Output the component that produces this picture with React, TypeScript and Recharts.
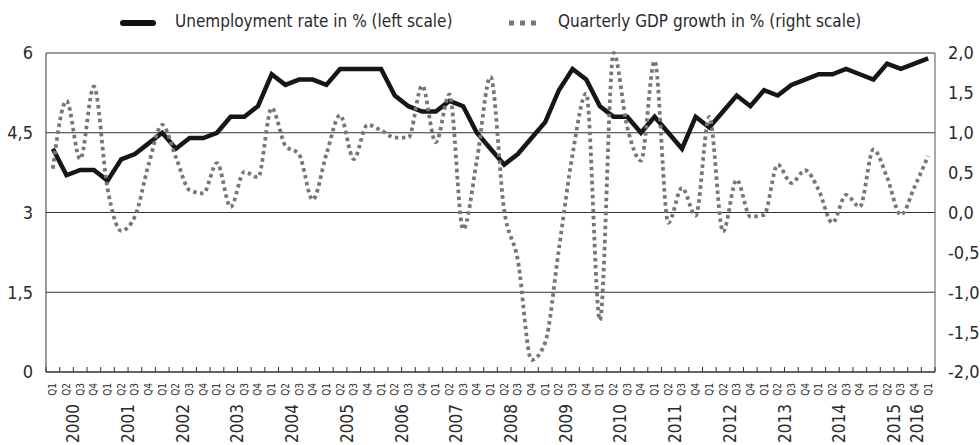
import { CartesianGrid, Line, LineChart, XAxis, YAxis } from "recharts";

const YEARS = [
  "2000", "2001", "2002", "2003", "2004", "2005", "2006", "2007", "2008",
  "2009", "2010", "2011", "2012", "2013", "2014", "2015", "2016",
];
const QUARTERS = ["Q1", "Q2", "Q3", "Q4"];

// unemployment rate in %, quarterly 2000 Q1 .. 2016 Q1 (left scale)
const UNEMPLOYMENT = [
  4.2, 3.7, 3.8, 3.8, 3.6, 4.0, 4.1, 4.3, 4.5, 4.2, 4.4, 4.4, 4.5, 4.8, 4.8,
  5.0, 5.6, 5.4, 5.5, 5.5, 5.4, 5.7, 5.7, 5.7, 5.7, 5.2, 5.0, 4.9, 4.9, 5.1,
  5.0, 4.5, 4.2, 3.9, 4.1, 4.4, 4.7, 5.3, 5.7, 5.5, 5.0, 4.8, 4.8, 4.5, 4.8,
  4.5, 4.2, 4.8, 4.6, 4.9, 5.2, 5.0, 5.3, 5.2, 5.4, 5.5, 5.6, 5.6, 5.7, 5.6,
  5.5, 5.8, 5.7, 5.8, 5.9,
];

// quarterly GDP growth in % (right scale)
const GDP_GROWTH = [
  0.55, 1.4, 0.67, 1.58, 0.3, -0.23, -0.05, 0.6, 1.1, 0.69, 0.28, 0.24, 0.62,
  0.07, 0.51, 0.44, 1.31, 0.84, 0.73, 0.16, 0.73, 1.22, 0.67, 1.1, 1.03, 0.94,
  0.94, 1.59, 0.88, 1.48, -0.21, 0.65, 1.7, 0.03, -0.6, -1.85, -1.63, -0.46,
  0.73, 1.49, -1.35, 2.0, 1.07, 0.65, 1.9, -0.13, 0.31, -0.04, 1.2, -0.24,
  0.41, -0.05, -0.03, 0.6, 0.37, 0.53, 0.28, -0.13, 0.22, 0.07, 0.79, 0.44,
  -0.03, 0.32, 0.71,
];

const LEFT_TICKS = [0, 1.5, 3, 4.5, 6];
const RIGHT_TICKS = [-2, -1.5, -1, -0.5, 0, 0.5, 1, 1.5, 2];

const PERIODS = YEARS.flatMap((y) =>
  (y === "2016" ? ["Q1"] : QUARTERS).map((q) => `${y} ${q}`),
);

const data = PERIODS.map((period, i) => ({
  period,
  unemployment: UNEMPLOYMENT[i],
  gdp: GDP_GROWTH[i],
}));

const W = 980;
const H = 445;
const LEFT_W = 46;
const RIGHT_W = 45;
const BAND = (W - LEFT_W - RIGHT_W) / PERIODS.length;
const FONT = '"Liberation Sans Narrow", "DejaVu Sans Condensed", "Open Sans", sans-serif';
const TEXT = "#2a2a2a";

const comma = (v: number, digits: number) =>
  (digits ? v.toFixed(digits) : String(v)).replace(".", ",");

const PeriodTick = ({ x, y, payload, index }: any) => {
  const i = payload?.index ?? index;
  const [year, q] = String(payload.value).split(" ");
  const last = i === PERIODS.length - 1;
  let yearX: number | null = null;
  if (q === "Q2") yearX = x + BAND / 2;
  if (last && q === "Q1") yearX = x - BAND * 0.85;
  return (
    <g>
      <line x1={x - BAND / 2} x2={x - BAND / 2} y1={y - 5} y2={y} stroke="#333" />
      {last && (
        <line x1={x + BAND / 2} x2={x + BAND / 2} y1={y - 5} y2={y} stroke="#333" />
      )}
      <text
        transform={`translate(${x},${y + 11}) rotate(-90)`}
        textAnchor="end"
        dominantBaseline="central"
        fontSize={10}
        fontFamily={FONT}
        fill={TEXT}
      >
        {q}
      </text>
      {yearX !== null && (
        <text
          transform={`translate(${yearX},${y + 32}) rotate(-90)`}
          textAnchor="end"
          dominantBaseline="central"
          fontSize={17}
          fontFamily={FONT}
          fill={TEXT}
        >
          {year}
        </text>
      )}
    </g>
  );
};

export default function App() {
  return (
    <div
      style={{
        position: "absolute",
        left: 0,
        top: 0,
        width: W,
        height: H,
        background: "#fff",
        fontFamily: FONT,
        color: TEXT,
      }}
    >
      <div style={{ position: "absolute", top: 10, left: 0, width: W, height: 26 }}>
        <div
          style={{
            position: "absolute",
            left: 120,
            top: 10,
            width: 36,
            height: 6,
            borderRadius: 3,
            background: "#111",
          }}
        />
        <div style={{ position: "absolute", left: 175, top: 1, fontSize: 17, whiteSpace: "nowrap" }}>
          Unemployment rate in % (left scale)
        </div>
        <svg style={{ position: "absolute", left: 508, top: 8 }} width={34} height={10}>
          <line
            x1={1}
            x2={33}
            y1={5}
            y2={5}
            stroke="#777"
            strokeWidth={5}
            strokeDasharray="5 6"
          />
        </svg>
        <div style={{ position: "absolute", left: 558, top: 1, fontSize: 17, whiteSpace: "nowrap" }}>
          Quarterly GDP growth in % (right scale)
        </div>
      </div>

      <LineChart
        width={W}
        height={H}
        data={data}
        margin={{ top: 53, right: 0, bottom: 0, left: 0 }}
        style={{ position: "absolute", left: 0, top: 0 }}
      >
        <CartesianGrid yAxisId="left" vertical={false} stroke="#333" strokeWidth={1} />
        <XAxis
          dataKey="period"
          scale="band"
          interval={0}
          height={73}
          tickLine={false}
          tickSize={0}
          tickMargin={0}
          axisLine={{ stroke: "#333" }}
          tick={<PeriodTick />}
        />
        <YAxis
          yAxisId="left"
          width={LEFT_W}
          domain={[0, 6]}
          ticks={LEFT_TICKS}
          tickLine={false}
          tickSize={0}
          tickMargin={13}
          axisLine={{ stroke: "#333" }}
          tick={{ fill: TEXT, fontSize: 18, fontFamily: FONT }}
          tickFormatter={(v: number) => comma(v, 0)}
        />
        <YAxis
          yAxisId="right"
          orientation="right"
          width={RIGHT_W}
          domain={[-2, 2]}
          ticks={RIGHT_TICKS}
          tickLine={false}
          tickSize={0}
          tickMargin={13}
          axisLine={{ stroke: "#555" }}
          tick={{ fill: TEXT, fontSize: 18, fontFamily: FONT, textAnchor: "start" }}
          tickFormatter={(v: number) => comma(v, 1)}
        />
        <Line
          yAxisId="left"
          dataKey="unemployment"
          type="linear"
          stroke="#161616"
          strokeWidth={4.5}
          dot={false}
          activeDot={false}
          isAnimationActive={false}
        />
        <Line
          yAxisId="right"
          dataKey="gdp"
          type="monotone"
          stroke="#767676"
          strokeWidth={3.8}
          strokeDasharray="3.5 3.5"
          dot={false}
          activeDot={false}
          isAnimationActive={false}
        />
      </LineChart>
    </div>
  );
}
